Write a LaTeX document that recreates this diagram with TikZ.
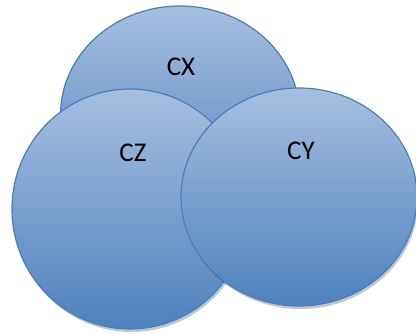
\documentclass[tikz,border=0pt]{standalone}
\usepackage{fontspec}
\setmainfont{Carlito}
\usetikzlibrary{shapes.geometric,shadows}
\definecolor{topblue}{HTML}{A6BFE0}
\definecolor{botblue}{HTML}{4F81BD}
\definecolor{edgeblue}{HTML}{4A7EBB}
\tikzset{
  bubble/.style={ellipse, draw=edgeblue, line width=1.2pt, inner sep=0pt,
    top color=topblue, bottom color=botblue,
    drop shadow={shadow xshift=1.5pt, shadow yshift=-3pt, fill=black, opacity=0.22}},
  lbl/.style={font=\fontsize{27}{30}\selectfont, text=black, inner sep=0pt}
}
\begin{document}
\begin{tikzpicture}[x=1pt,y=-1pt]
\useasboundingbox (0,0) rectangle (416,334);
\node[bubble, minimum width=239pt, minimum height=218pt] (cx) at (180,115) {};
\node[bubble, minimum width=236pt, minimum height=240pt] (cz) at (130,209) {};
\node[bubble, minimum width=236pt, minimum height=218pt] (cy) at (299,197) {};
\node[lbl] (tcx) at (181,67) {CX};
\node[lbl] (tcz) at (133,153) {CZ};
\node[lbl] (tcy) at (301,151) {CY};
\end{tikzpicture}
\end{document}
